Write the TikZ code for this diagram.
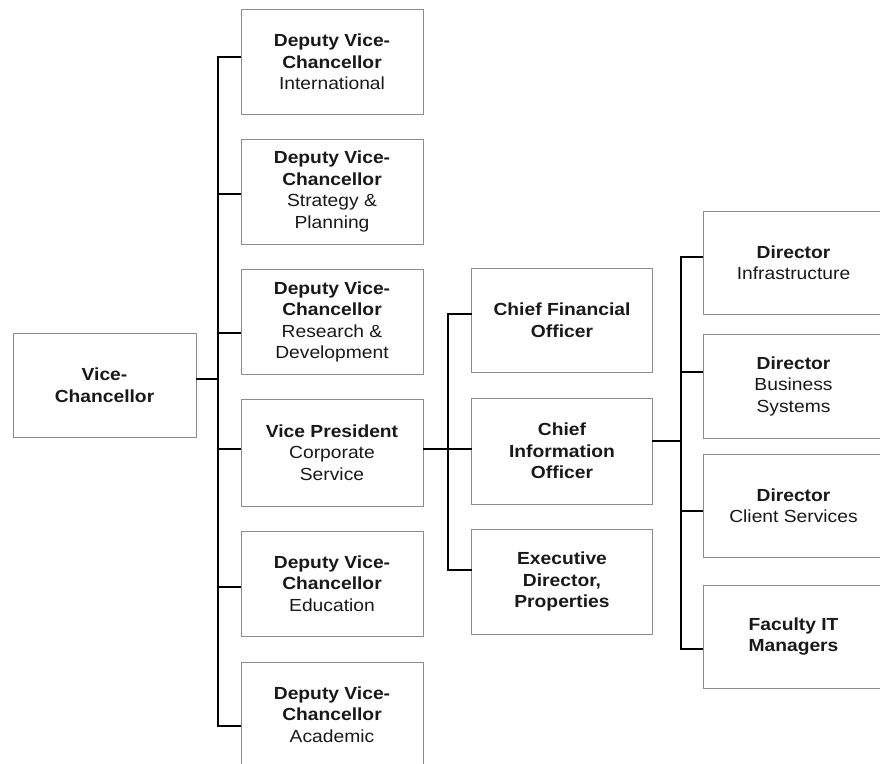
\documentclass[tikz,border=0pt]{standalone}
\usepackage{fontspec}
\setmainfont{Liberation Sans}[FakeStretch=1.1]
\begin{document}
\begin{tikzpicture}[x=1pt,y=-1pt,
  box/.style={draw=black!45, line width=0.7pt, minimum width=182pt, minimum height=105pt,
    inner sep=0pt, align=center, text=black!90,
    font=\fontsize{17.5}{21.5}\selectfont},
  conn/.style={draw=black, line width=1.6pt, line cap=rect}]
\useasboundingbox (0,0) rectangle (880,763);
\fill[white] (0,0) rectangle (880,763);
% column 1
\node[box, minimum width=183pt, minimum height=104pt] (vc) at (104.5,385) {\textbf{Vice-}\\\textbf{Chancellor}};
% column 2
\node[box] (b1) at (332,62) {\textbf{Deputy Vice-}\\\textbf{Chancellor}\\International};
\node[box] (b2) at (332,191.5) {\textbf{Deputy Vice-}\\\textbf{Chancellor}\\Strategy \&\\Planning};
\node[box] (b3) at (332,322) {\textbf{Deputy Vice-}\\\textbf{Chancellor}\\Research \&\\Development};
\node[box, minimum height=107pt] (b4) at (332,452.5) {\textbf{Vice President}\\Corporate\\Service};
\node[box] (b5) at (332,583.5) {\textbf{Deputy Vice-}\\\textbf{Chancellor}\\Education};
\node[box] (b6) at (332,714.5) {\textbf{Deputy Vice-}\\\textbf{Chancellor}\\Academic};
% column 3
\node[box, minimum width=181pt, minimum height=104pt] (cfo) at (562,320) {\textbf{Chief Financial}\\\textbf{Officer}};
\node[box, minimum width=181pt, minimum height=106pt] (cio) at (562,451) {\textbf{Chief}\\\textbf{Information}\\\textbf{Officer}};
\node[box, minimum width=181pt] (edp) at (562,581.5) {\textbf{Executive}\\\textbf{Director,}\\\textbf{Properties}};
% column 4
\node[box, minimum width=181pt, minimum height=103pt] (inf) at (793.5,262.5) {\textbf{Director}\\Infrastructure};
\node[box, minimum width=181pt, minimum height=104pt] (bs) at (793.5,386) {\textbf{Director}\\Business\\Systems};
\node[box, minimum width=181pt, minimum height=103pt] (cs) at (793.5,505.5) {\textbf{Director}\\Client Services};
\node[box, minimum width=181pt, minimum height=103pt] (fit) at (793.5,636.5) {\textbf{Faculty IT}\\\textbf{Managers}};
% bus positions
\coordinate (bus2) at (218,385);
\coordinate (bus3) at (448,450);
\coordinate (bus4) at (681,450);
% connector points
\coordinate (cvc) at ([yshift=6pt]vc.east);
\coordinate (c1) at ([yshift=5pt]b1.west);
\coordinate (c2) at ([yshift=-2.5pt]b2.west);
\coordinate (c3) at ([yshift=-11pt]b3.west);
\coordinate (c4) at ([yshift=3.5pt]b4.west);
\coordinate (c5) at ([yshift=-3.5pt]b5.west);
\coordinate (c6) at ([yshift=-11.5pt]b6.west);
\coordinate (cvp) at ([yshift=3.5pt]b4.east);
\coordinate (ccfo) at ([yshift=6pt]cfo.west);
\coordinate (ccio) at (cio.west |- cvp);
\coordinate (cedp) at ([yshift=11.5pt]edp.west);
\coordinate (cciob) at ([yshift=10pt]cio.east);
\coordinate (cinf) at ([yshift=5.5pt]inf.west);
\coordinate (cbs) at ([yshift=14pt]bs.west);
\coordinate (ccs) at ([yshift=-5.5pt]cs.west);
\coordinate (cfit) at ([yshift=-12.5pt]fit.west);
% column 2 bus
\draw[conn] (c1) -| (bus2) |- (c6);
\draw[conn] (cvc) -- (cvc -| bus2);
\draw[conn] (c2) -- (c2 -| bus2);
\draw[conn] (c3) -- (c3 -| bus2);
\draw[conn] (c4) -- (c4 -| bus2);
\draw[conn] (c5) -- (c5 -| bus2);
% column 3 bus
\draw[conn] (ccfo) -| (bus3) |- (cedp);
\draw[conn] (cvp) -- (ccio);
% column 4 bus
\draw[conn] (cinf) -| (bus4) |- (cfit);
\draw[conn] (cciob) -- (cciob -| bus4);
\draw[conn] (cbs) -- (cbs -| bus4);
\draw[conn] (ccs) -- (ccs -| bus4);
\end{tikzpicture}
\end{document}
